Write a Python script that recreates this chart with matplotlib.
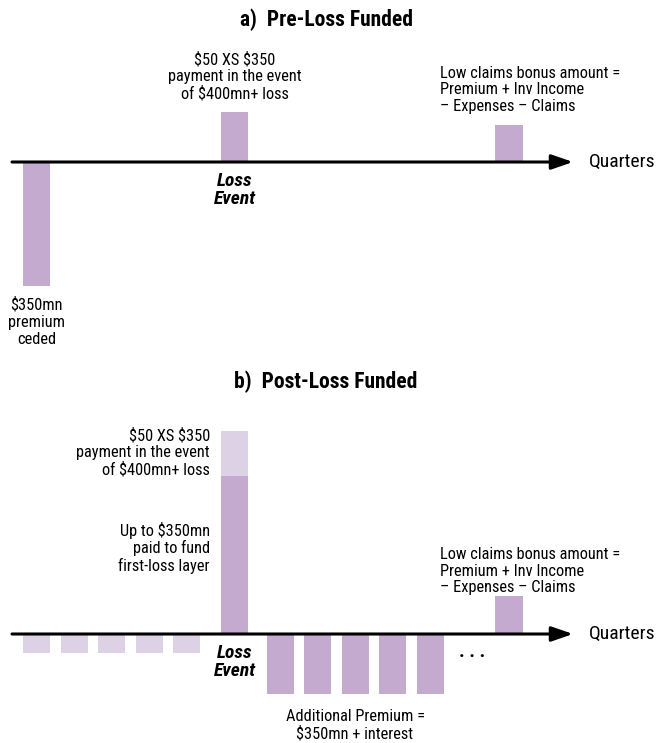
import matplotlib
matplotlib.use("Agg")
import matplotlib.pyplot as plt

# ---- data (arbitrary height units, x in quarters) ----
pre_quarters = [0, 1, 2, 3, 4]
loss_quarter = 5.28
post_quarters = [6.5, 7.5, 8.5, 9.5, 10.5]
bonus_quarter = 12.6

# panel a) pre-loss funded
a_premium_ceded = -124
a_payment = 50
a_bonus = 37

# panel b) post-loss funded
b_pre_premium = [-19, -19, -19, -19, -19]
b_first_loss = 158
b_payment = 45
b_post_premium = [-60, -60, -60, -60, -60]
b_bonus = 38

DARK = "#c4aacf"
LIGHT = "#ddd1e5"
W = 0.72

plt.rcParams['font.family'] = ['Roboto Condensed', 'DejaVu Sans']
plt.rcParams['text.parse_math'] = False
FS = 11.8
LS = 1.15

fig = plt.figure(figsize=(6.56, 7.43), dpi=100)
H = 743.0


def px(x):
    # pixel column -> quarter units
    return (x - 36.5) / 37.5


def make_axes(top, bottom, axis_y):
    ax = fig.add_axes([0, 1 - bottom / H, 1, (bottom - top) / H])
    ax.set_xlim(px(0), px(656))
    ax.set_ylim(-(bottom - axis_y), axis_y - top)
    ax.axis("off")
    ax.annotate("", xy=(px(573), 0), xytext=(px(12), 0),
                arrowprops=dict(arrowstyle="-|>,head_length=1.3,head_width=0.45",
                                lw=2.2, color="black", shrinkA=0, shrinkB=0),
                zorder=5)
    ax.text(px(589), 0, "Quarters", fontsize=14, va="center", ha="left")
    return ax


# =============================
#     a) Pre-Loss Funded
# =============================
ax = make_axes(0, 371, 162)
ax.bar([pre_quarters[0]], [a_premium_ceded], width=W, color=DARK)
ax.bar([loss_quarter], [a_payment], width=W, color=DARK)
ax.bar([bonus_quarter], [a_bonus], width=W, color=DARK)

ax.text(px(326), 162 - 20, "a)  Pre-Loss Funded", fontsize=15.5, fontweight="bold",
        ha="center", va="center")
ax.text(loss_quarter, 162 - 77, "$50 XS $350\npayment in the event\nof $400mn+ loss",
        fontsize=FS, ha="center", va="center", linespacing=LS)
ax.text(loss_quarter, 162 - 190, "Loss\nEvent", fontsize=14, fontweight="bold",
        fontstyle="italic", ha="center", va="center", linespacing=0.95)
ax.text(pre_quarters[0], 162 - 322, "$350mn\npremium\nceded",
        fontsize=FS, ha="center", va="center", linespacing=LS)
ax.text(px(440), 162 - 90, "Low claims bonus amount =\nPremium + Inv Income\n– Expenses – Claims",
        fontsize=FS, ha="left", va="center", linespacing=LS)

# =============================
#     b) Post-Loss Funded
# =============================
ax = make_axes(371, 743, 634)
ax.bar(pre_quarters, b_pre_premium, width=W, color=LIGHT)
ax.bar([loss_quarter], [b_first_loss], width=W, color=DARK)
ax.bar([loss_quarter], [b_payment], bottom=[b_first_loss], width=W, color=LIGHT)
ax.bar(post_quarters, b_post_premium, width=W, color=DARK)
ax.bar([bonus_quarter], [b_bonus], width=W, color=DARK)

ax.text(px(326), 634 - 382, "b)  Post-Loss Funded", fontsize=15.5, fontweight="bold",
        ha="center", va="center")
ax.text(px(210), 634 - 453, "$50 XS $350\npayment in the event\nof $400mn+ loss",
        fontsize=FS, ha="right", va="center", linespacing=LS)
ax.text(px(210), 634 - 548, "Up to $350mn\npaid to fund\nfirst-loss layer",
        fontsize=FS, ha="right", va="center", linespacing=LS)
ax.text(loss_quarter, 634 - 662, "Loss\nEvent", fontsize=14, fontweight="bold",
        fontstyle="italic", ha="center", va="center", linespacing=0.95)
ax.text(px(355), 634 - 725, "Additional Premium =\n$350mn + interest",
        fontsize=FS, ha="center", va="center", linespacing=LS)
ax.text(px(472), 634 - 652, ". . .", fontsize=14, fontweight="bold", ha="center", va="center")
ax.text(px(440), 634 - 571, "Low claims bonus amount =\nPremium + Inv Income\n– Expenses – Claims",
        fontsize=FS, ha="left", va="center", linespacing=LS)

fig.savefig("out.png", dpi=100)
